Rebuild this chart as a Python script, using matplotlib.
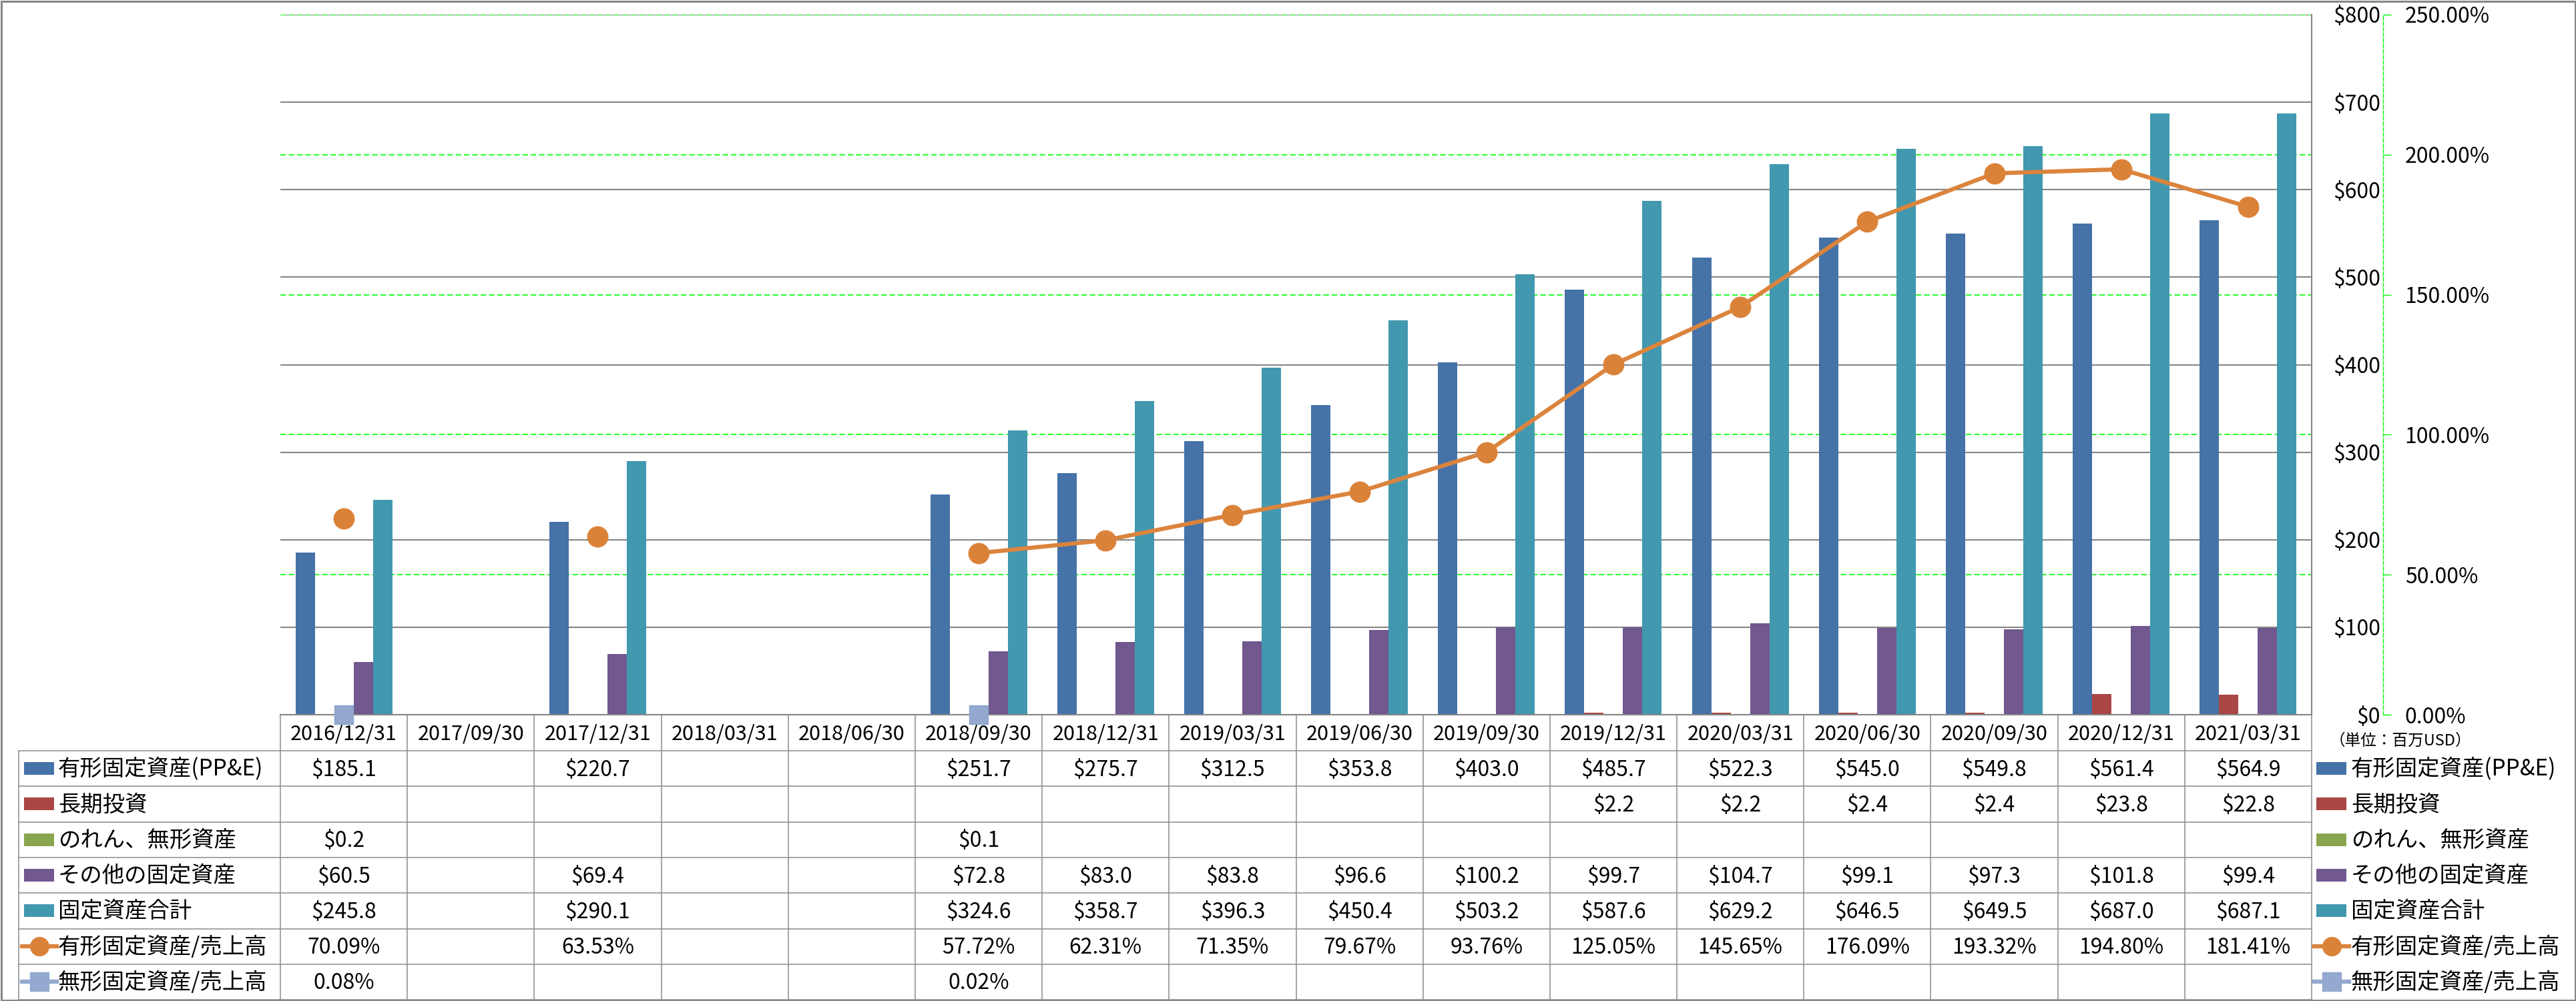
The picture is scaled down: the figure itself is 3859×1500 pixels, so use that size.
import numpy as np
import matplotlib
matplotlib.use('Agg')
import matplotlib.pyplot as plt
from matplotlib.patches import Rectangle
from matplotlib.ticker import FuncFormatter, MultipleLocator

plt.rcParams['font.family'] = ['Noto Sans CJK JP', 'DejaVu Sans']

nan = np.nan

# ---- data (百万USD / %) ----
dates = ['2016/12/31', '2017/09/30', '2017/12/31', '2018/03/31', '2018/06/30',
         '2018/09/30', '2018/12/31', '2019/03/31', '2019/06/30', '2019/09/30',
         '2019/12/31', '2020/03/31', '2020/06/30', '2020/09/30', '2020/12/31',
         '2021/03/31']
ppe = [185.1, nan, 220.7, nan, nan, 251.7, 275.7, 312.5, 353.8, 403.0,
       485.7, 522.3, 545.0, 549.8, 561.4, 564.9]
long_inv = [nan, nan, nan, nan, nan, nan, nan, nan, nan, nan,
            2.2, 2.2, 2.4, 2.4, 23.8, 22.8]
goodwill = [0.2, nan, nan, nan, nan, 0.1, nan, nan, nan, nan,
            nan, nan, nan, nan, nan, nan]
other_fixed = [60.5, nan, 69.4, nan, nan, 72.8, 83.0, 83.8, 96.6, 100.2,
               99.7, 104.7, 99.1, 97.3, 101.8, 99.4]
total_fixed = [245.8, nan, 290.1, nan, nan, 324.6, 358.7, 396.3, 450.4, 503.2,
               587.6, 629.2, 646.5, 649.5, 687.0, 687.1]
ppe_ratio = [70.09, nan, 63.53, nan, nan, 57.72, 62.31, 71.35, 79.67, 93.76,
             125.05, 145.65, 176.09, 193.32, 194.80, 181.41]
intang_ratio = [0.08, nan, nan, nan, nan, 0.02, nan, nan, nan, nan,
                nan, nan, nan, nan, nan, nan]

bar_names = ['有形固定資産(PP&E)', '長期投資', 'のれん、無形資産', 'その他の固定資産', '固定資産合計']
line_names = ['有形固定資産/売上高', '無形固定資産/売上高']
bar_colors = ['#4572A7', '#AA4643', '#89A54E', '#71588F', '#4198AF']
line_colors = ['#DB843D', '#93A9CF']

bar_vals = [ppe, long_inv, goodwill, other_fixed, total_fixed]
line_vals = [ppe_ratio, intang_ratio]

# ---- layout (pixels) ----
W, H = 3859, 1500
PL, PR, PT, PB = 420, 3463, 22, 1071
GRID = '#868686'
GREEN = '#00FF00'

fig = plt.figure(figsize=(W / 100, H / 100), dpi=100)
ax = fig.add_axes([PL / W, 1 - PB / H, (PR - PL) / W, (PB - PT) / H])
ax2 = ax.twinx()   # make the twin first, twinx resets ax's tick side

n = len(dates)
x = np.arange(n)
bw = 0.1525
for k, (vals, c) in enumerate(zip(bar_vals, bar_colors)):
    ax.bar(x + (k - 2) * bw, vals, bw, color=c, zorder=2)

ax.set_xlim(-0.5, n - 0.5)
ax.set_ylim(0, 800)
ax.yaxis.set_major_locator(MultipleLocator(100))
ax.yaxis.set_major_formatter(FuncFormatter(lambda v, p: f'${v:.0f}'))
ax.grid(axis='y', color=GRID, lw=1.5, zorder=0)
ax.set_axisbelow(True)
ax.set_xticks([])
for s in ['left', 'top']:
    ax.spines[s].set_visible(False)
ax.spines['right'].set_color(GRID)
ax.spines['right'].set_linewidth(1.5)
ax.spines['bottom'].set_color(GRID)
ax.spines['bottom'].set_linewidth(1.5)
ax.yaxis.tick_right()
ax.tick_params(axis='y', left=False, labelleft=False, right=True, labelright=True,
               length=0, pad=74, labelsize=23)
for t in ax.yaxis.get_major_ticks():
    t.label2.set_horizontalalignment('right')

# secondary axis (%)
ax2.set_ylim(0, 250)
ax2.yaxis.set_major_locator(MultipleLocator(50))
ax2.yaxis.set_major_formatter(FuncFormatter(lambda v, p: f'{v:.2f}%'))
for s in ['left', 'top', 'bottom']:
    ax2.spines[s].set_visible(False)
ax2.spines['right'].set_position(('outward', 77))
ax2.spines['right'].set_color(GREEN)
ax2.spines['right'].set_linestyle((0, (4, 2)))
ax2.spines['right'].set_linewidth(1)
ax2.tick_params(axis='y', direction='out', length=8.6, width=1, color=GREEN,
                pad=15, labelsize=23)

# green dashed gridlines for the % axis, behind the bars
for v in ax2.get_yticks()[1:]:
    ax.axhline(v * 800 / 250, color=GREEN, lw=1.2, ls=(0, (5, 2.5)), zorder=1)

ax2.plot(x, ppe_ratio, color=line_colors[0], lw=4.5, marker='o', ms=22,
         mfc='#DA8238', mec=line_colors[0], zorder=3)
ax2.plot(x, intang_ratio, color=line_colors[1], lw=4.5, marker='s', ms=20,
         mfc=line_colors[1], mec='#8BA3CC', zorder=3, clip_on=False)

# ---- data table + legends ----
ov = fig.add_axes([0, 0, 1, 1])
ov.set_zorder(-1)
ov.set_xlim(0, W)
ov.set_ylim(H, 0)
ov.axis('off')

col_w = (PR - PL) / n
hdr_top, row_top, rh = PB, 1125, 53.3
rows = len(bar_names) + len(line_names)
tbl_bot = row_top + rows * rh
LC = '#8C8C8C'

ov.plot([PL, PR], [hdr_top, hdr_top], color=LC, lw=1.1)
for k in range(rows + 1):
    yy = row_top + k * rh
    ov.plot([28, PR], [yy, yy], color=LC, lw=1.1)
for i in range(n + 1):
    xx = PL + i * col_w
    ov.plot([xx, xx], [hdr_top, tbl_bot], color=LC, lw=1.1)
ov.plot([28, 28], [row_top, tbl_bot], color=LC, lw=1.1)

for i, d in enumerate(dates):
    ov.text(PL + (i + 0.5) * col_w, (hdr_top + row_top) / 2 + 2, d,
            ha='center', va='center', fontsize=22)

all_vals = bar_vals + line_vals
all_names = bar_names + line_names
for r, (vals, name) in enumerate(zip(all_vals, all_names)):
    yc = row_top + (r + 0.5) * rh
    for i, v in enumerate(vals):
        if np.isnan(v):
            continue
        s = f'${v:.1f}' if r < len(bar_names) else f'{v:.2f}%'
        ov.text(PL + (i + 0.5) * col_w, yc + 2, s, ha='center', va='center', fontsize=23)
    # left row header and right legend
    for x0, tx in [(36, 87), (3470, 3522)]:
        if r < len(bar_names):
            ov.add_patch(Rectangle((x0, yc - 9.5), 45, 19, color=bar_colors[r], lw=0))
        else:
            j = r - len(bar_names)
            mk = 'o' if j == 0 else 's'
            ov.plot([x0 - 3, x0 + 49], [yc, yc], color=line_colors[j], lw=4.5)
            ov.plot([x0 + 23], [yc], marker=mk, ms=20, color=line_colors[j],
                    mfc='#DA8238' if j == 0 else line_colors[j])
        ov.text(tx, yc + 1, name, ha='left', va='center', fontsize=24)

ov.text(3596, 1110, '（単位：百万USD）', ha='center', va='center', fontsize=17)
ov.add_patch(Rectangle((1.5, 1.5), W - 3, H - 3, fill=False, ec='#878787', lw=2.2,
                       clip_on=False))

fig.savefig('out.png', dpi=100, facecolor='white')
